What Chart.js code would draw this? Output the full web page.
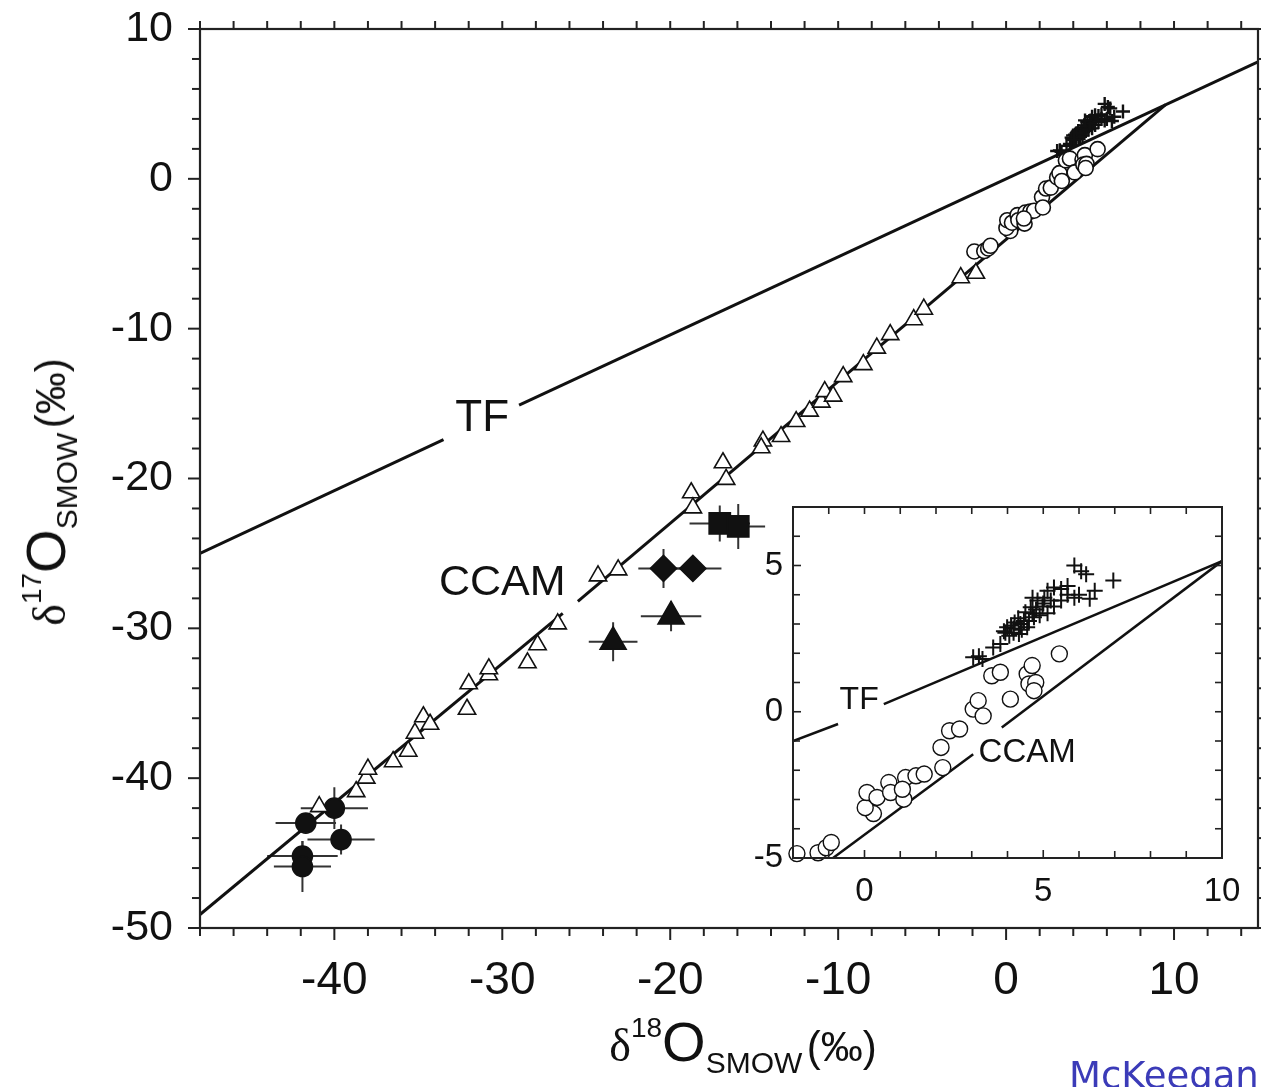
<!DOCTYPE html>
<html>
<head>
<meta charset="utf-8">
<script src="https://cdn.jsdelivr.net/npm/chart.js@4.4.1/dist/chart.umd.min.js"></script>
<style>
  html, body { margin: 0; padding: 0; background: #fff; }
  #wrap { position: relative; width: 1261px; height: 1087px; overflow: hidden; background: #fff;
          font-family: "Liberation Sans", Arial, Helvetica, sans-serif; color: #111; }
  canvas { position: absolute; }
  #main { left: 0; top: 0; }
  #inset { left: 740px; top: 490px; }
  .atitle { position: absolute; white-space: nowrap; line-height: 1; }
  .atitle .dl { font-family: "Liberation Serif", "DejaVu Serif", serif; font-size: 46px; }
  .atitle .o { font-size: 56px; }
  .atitle sup { font-size: 28px; vertical-align: 24px; }
  .atitle sub { font-size: 30px; vertical-align: -12px; }
  .atitle .pm { font-size: 42px; }
  #xtitle { left: 743px; top: 1046px; transform: translate(-50%, -50%); }
  #ytitle { left: 50px; top: 492px; transform: translate(-50%, -50%) rotate(-90deg); }
  #credit { position: absolute; left: 1069px; top: 1057px; font-family: "Comic Sans MS", "DejaVu Sans", sans-serif;
            font-size: 37px; line-height: 1; color: #3b3bb8; white-space: nowrap; }
</style>
</head>
<body>
<div id="wrap">
  <canvas id="main" width="1261" height="1087"></canvas>
  <canvas id="inset" width="500" height="420"></canvas>
  <div id="ytitle" class="atitle"><span class="dl">δ</span><sup>17</sup><span class="o">O</span><sub>SMOW</sub> <span class="pm">(‰)</span></div>
  <div id="xtitle" class="atitle"><span class="dl">δ</span><sup>18</sup><span class="o">O</span><sub>SMOW</sub> <span class="pm">(‰)</span></div>
  <div id="credit">McKeegan</div>
</div>
<script>
// values: delta-18O (x) vs delta-17O (y), permil SMOW

// open triangles along CCAM
const triX = [-40.9, -38.7, -38.1, -38.0, -36.5, -35.6, -35.2, -34.7, -34.3, -32.1, -32.0, -30.8, -30.8,
              -28.5, -27.9, -26.7, -24.3, -23.1, -18.75, -18.65, -16.86, -16.67, -14.48, -14.58, -13.4,
              -12.5, -11.7, -11.0, -10.8, -10.3, -9.7, -8.5, -7.7, -6.9, -5.5, -4.9, -2.7, -1.8];
const triY = [-41.9, -40.9, -40.0, -39.4, -38.9, -38.2, -37.0, -35.9, -36.4, -35.4, -33.7, -33.1, -32.7,
              -32.3, -31.1, -29.7, -26.5, -26.1, -20.95, -21.96, -18.95, -20.06, -17.5, -17.95, -17.2,
              -16.2, -15.5, -14.9, -14.2, -14.5, -13.2, -12.4, -11.3, -10.4, -9.4, -8.7, -6.6, -6.3];

// open circles
const circX = [-1.89, -1.30, -1.07, -0.93, 0.25, 0.02, 0.07, 0.35, 0.68, 0.73, 1.10, 1.15, 1.44, 1.67, 1.06,
               2.14, 2.19, 2.38, 2.66, 3.04, 3.18, 3.32, 3.56, 3.80, 4.08, 4.55, 4.69, 4.60, 4.79, 4.74, 5.45];
const circY = [-4.85, -4.82, -4.65, -4.47, -3.48, -3.28, -2.76, -2.93, -2.42, -2.76, -2.99, -2.25, -2.19, -2.13, -2.65,
               -1.22, -1.91, -0.65, -0.59, 0.09, 0.38, -0.14, 1.23, 1.35, 0.43, 1.29, 1.58, 0.95, 1.00, 0.72, 1.98];

// crosses
const plusX = [3.04, 3.2, 3.3, 3.6, 3.8, 3.94, 3.99, 4.17, 4.17, 4.32, 4.36, 4.46, 4.55, 4.65, 4.7, 4.74, 4.84,
               4.98, 5.03, 5.12, 5.12, 5.21, 5.3, 5.3, 5.5, 5.5, 5.68, 5.68, 5.87, 5.87, 6.0, 6.06, 6.2, 6.3,
               6.44, 6.96, 4.1, 4.3, 4.5, 4.6, 4.4, 4.8, 4.9, 5.0, 4.2, 3.9, 4.05, 4.7];
const plusY = [1.86, 1.9, 1.8, 2.2, 2.32, 2.7, 2.89, 2.85, 2.7, 2.66, 3.0, 3.1, 2.89, 3.57, 3.37, 3.23, 3.8,
               3.6, 3.9, 4.14, 3.37, 3.8, 4.25, 3.6, 4.2, 3.8, 4.3, 4.0, 5.0, 3.9, 4.0, 4.8, 4.7, 3.86,
               4.14, 4.49, 2.95, 3.2, 3.4, 3.1, 2.8, 3.5, 3.3, 3.7, 3.05, 2.75, 2.6, 3.9];

// filled symbols with error bars
const dotX = [-40.0, -41.7, -39.6, -41.9, -41.9];
const dotY = [-42.0, -43.0, -44.1, -45.2, -45.9];
const dotXErr = [2.0, 1.8, 2.0, 2.1, 1.7];
const dotYErr = [1.4, 0.6, 1.0, 1.0, 1.7];

const diaX = [-20.4, -18.65];
const diaY = [-26.0, -26.0];
const diaXErr = [1.5, 1.7];
const diaYErr = [1.3, 0.8];

const ftriX = [-23.4, -19.95];
const ftriY = [-30.9, -29.2];
const ftriXErr = [1.45, 1.8];
const ftriYErr = [1.3, 1.0];

const sqX = [-17.05, -15.95];
const sqY = [-23.0, -23.2];
const sqXErr = [1.8, 1.6];
const sqYErr = [1.2, 1.5];

// reference lines (segments broken around their labels)
const tfMainA = [[-48, -25.0], [-33.5, -17.4]];
const tfMainB = [[-29.0, -15.1], [15, 7.8]];
const ccamMainA = [[-48, -49.1], [-26.4, -29.0]];
const ccamMainB = [[-25.5, -28.2], [9.5, 4.95]];
const tfInsetA = [[-2, -1.0], [-0.74, -0.42]];
const tfInsetB = [[0.54, 0.26], [10, 5.15]];
const ccamInsetA = [[-0.88, -5.0], [3.04, -1.45]];
const ccamInsetB = [[3.84, -0.54], [10, 5.15]];

// axes
const mainXRange = [-48, 15];
const mainYRange = [-50, 10];
const mainXLabels = [-40, -30, -20, -10, 0, 10];
const mainYLabels = [-50, -40, -30, -20, -10, 0, 10];
const insetXRange = [-2, 10];
const insetYRange = [-5, 7];
const insetXLabels = [0, 5, 10];
const insetYLabels = [-5, 0, 5];

const FONT = '"Liberation Sans", Arial, Helvetica, sans-serif';
const INK = '#111';

const pts = (xs, ys) => xs.map((x, i) => ({ x, y: ys[i] }));
const seg = arr => arr.map(([x, y]) => ({ x, y }));

function lineSet(arr, width) {
  return { data: seg(arr), showLine: true, pointRadius: 0, borderColor: INK, borderWidth: width,
           fill: false, tension: 0, order: 5 };
}
function markSet(data, style, r, fill, extra) {
  return Object.assign({ data, pointStyle: style, pointRadius: r, backgroundColor: fill,
                         borderColor: INK, borderWidth: 1.6, order: 1, clip: false }, extra || {});
}

// box frame + tick marks drawn from the scales
const frameTicks = {
  id: 'frameTicks',
  beforeDraw(chart, args, o) {
    if (!o.fill) return;
    const { ctx, chartArea: a } = chart;
    ctx.save();
    ctx.fillStyle = o.fill;
    ctx.fillRect(a.left, a.top, a.right - a.left, a.bottom - a.top);
    ctx.restore();
  },
  afterDatasetsDraw(chart, args, o) {
    const { ctx, chartArea: a, scales: { x, y } } = chart;
    const dir = o.inward ? -1 : 1;
    ctx.save();
    ctx.strokeStyle = o.color;
    ctx.lineWidth = o.width;
    const line = (x1, y1, x2, y2) => { ctx.beginPath(); ctx.moveTo(x1, y1); ctx.lineTo(x2, y2); ctx.stroke(); };
    ctx.strokeRect(a.left, a.top, a.right - a.left, a.bottom - a.top);
    ctx.lineWidth = o.tickWidth;
    const nx = Math.floor((x.max - x.min) / o.stepX + 1e-6);
    for (let i = 0; i <= nx; i++) {
      const v = x.min + i * o.stepX;
      const px = x.getPixelForValue(v);
      const major = v % 10 === 0 || (o.majorEvery && v % o.majorEvery === 0);
      const len = major ? o.majorLen : o.minorLen;
      line(px, a.bottom, px, a.bottom + dir * len);
      line(px, a.top, px, a.top - dir * o.minorLen);
    }
    const ny = Math.floor((y.max - y.min) / o.stepY + 1e-6);
    for (let i = 0; i <= ny; i++) {
      const v = y.min + i * o.stepY;
      const py = y.getPixelForValue(v);
      const major = v % 10 === 0 || (o.majorEvery && v % o.majorEvery === 0);
      const len = major ? o.majorLen : o.minorLen;
      line(a.left, py, a.left - dir * len, py);
      line(a.right, py, a.right + dir * o.minorLen, py);
    }
    ctx.restore();
  }
};

// error bars from the xErr / yErr arrays attached to a dataset
const errorBars = {
  id: 'errorBars',
  beforeDatasetsDraw(chart, args, o) {
    const { ctx, scales: { x, y } } = chart;
    ctx.save();
    ctx.strokeStyle = o.color;
    ctx.lineWidth = o.width;
    chart.data.datasets.forEach(ds => {
      if (!ds.xErr) return;
      ds.data.forEach((p, i) => {
        const cx = x.getPixelForValue(p.x), cy = y.getPixelForValue(p.y);
        ctx.beginPath();
        ctx.moveTo(x.getPixelForValue(p.x - ds.xErr[i]), cy);
        ctx.lineTo(x.getPixelForValue(p.x + ds.xErr[i]), cy);
        ctx.moveTo(cx, y.getPixelForValue(p.y - ds.yErr[i]));
        ctx.lineTo(cx, y.getPixelForValue(p.y + ds.yErr[i]));
        ctx.stroke();
      });
    });
    ctx.restore();
  }
};

// line names placed in data coordinates
const lineNames = {
  id: 'lineNames',
  afterDatasetsDraw(chart, args, o) {
    const { ctx, scales: { x, y } } = chart;
    ctx.save();
    ctx.fillStyle = INK;
    ctx.textAlign = 'center';
    ctx.textBaseline = 'middle';
    o.items.forEach(t => {
      ctx.font = t.size + 'px ' + FONT;
      ctx.fillText(t.text, x.getPixelForValue(t.x), y.getPixelForValue(t.y));
    });
    ctx.restore();
  }
};

function axis(range, labels, size, padding, fit) {
  return {
    type: 'linear', min: range[0], max: range[1],
    grid: { display: false, drawTicks: false },
    border: { display: false },
    afterBuildTicks: s => { s.ticks = labels.map(v => ({ value: v })); },
    afterFit: s => {
      fit(s);
      // keep label overhang from pushing the plot box around
      s.paddingLeft = s.paddingRight = s.paddingTop = s.paddingBottom = 0;
    },
    ticks: { font: { family: FONT, size }, color: INK, padding, maxRotation: 0, autoSkip: false,
             callback: v => String(v) }
  };
}

new Chart(document.getElementById('main'), {
  type: 'scatter',
  data: {
    datasets: [
      lineSet(tfMainA, 3), lineSet(tfMainB, 3), lineSet(ccamMainA, 3), lineSet(ccamMainB, 3),
      markSet(pts(triX, triY), 'triangle', 10, '#fff'),
      markSet(pts(circX, circY), 'circle', 7.5, '#fff'),
      markSet(pts(plusX, plusY), 'cross', 7, INK, { borderWidth: 2.4 }),
      markSet(pts(dotX, dotY), 'circle', 10, INK, { xErr: dotXErr, yErr: dotYErr }),
      markSet(pts(diaX, diaY), 'rectRot', 13, INK, { xErr: diaXErr, yErr: diaYErr }),
      markSet(pts(ftriX, ftriY), 'triangle', 15, INK, { xErr: ftriXErr, yErr: ftriYErr }),
      markSet(pts(sqX, sqY), 'rect', 15, INK, { xErr: sqXErr, yErr: sqYErr })
    ]
  },
  options: {
    responsive: false, animation: false, devicePixelRatio: 1, events: [],
    layout: { autoPadding: false, padding: { top: 29, right: 3, bottom: 0, left: 0 } },
    plugins: {
      legend: { display: false }, tooltip: { enabled: false },
      frameTicks: { color: '#222', width: 2.2, tickWidth: 2, stepX: 2, stepY: 2, majorLen: 12, minorLen: 8, inward: false },
      errorBars: { color: '#333', width: 2 },
      lineNames: { items: [ { text: 'TF', x: -31.2, y: -16.0, size: 44 },
                            { text: 'CCAM', x: -30.0, y: -27.0, size: 43 } ] }
    },
    scales: {
      x: axis(mainXRange, mainXLabels, 46, 26, s => { s.height = 159; }),
      y: axis(mainYRange, mainYLabels, 43, 27, s => { s.width = 200; })
    }
  },
  plugins: [frameTicks, errorBars, lineNames]
});

new Chart(document.getElementById('inset'), {
  type: 'scatter',
  data: {
    datasets: [
      lineSet(tfInsetA, 2.5), lineSet(tfInsetB, 2.5), lineSet(ccamInsetA, 2.5), lineSet(ccamInsetB, 2.5),
      markSet(pts(circX, circY), 'circle', 8, '#fff', { borderWidth: 1.4 }),
      markSet(pts(plusX, plusY), 'cross', 8, INK, { borderWidth: 2 })
    ]
  },
  options: {
    responsive: false, animation: false, devicePixelRatio: 1, events: [],
    layout: { autoPadding: false, padding: { top: 17, right: 18, bottom: 0, left: 0 } },
    plugins: {
      legend: { display: false }, tooltip: { enabled: false },
      frameTicks: { fill: '#fff', color: '#222', width: 2, tickWidth: 1.6, stepX: 1, stepY: 1, majorEvery: 5,
                    majorLen: 8, minorLen: 7, inward: true },
      lineNames: { items: [ { text: 'TF', x: -0.15, y: 0.4, size: 32 },
                            { text: 'CCAM', x: 4.55, y: -1.4, size: 33 } ] }
    },
    scales: {
      x: axis(insetXRange, insetXLabels, 33, 14, s => { s.height = 52; }),
      y: axis(insetYRange, insetYLabels, 33, 10, s => { s.width = 53; })
    }
  },
  plugins: [frameTicks, lineNames]
});
</script>
</body>
</html>
